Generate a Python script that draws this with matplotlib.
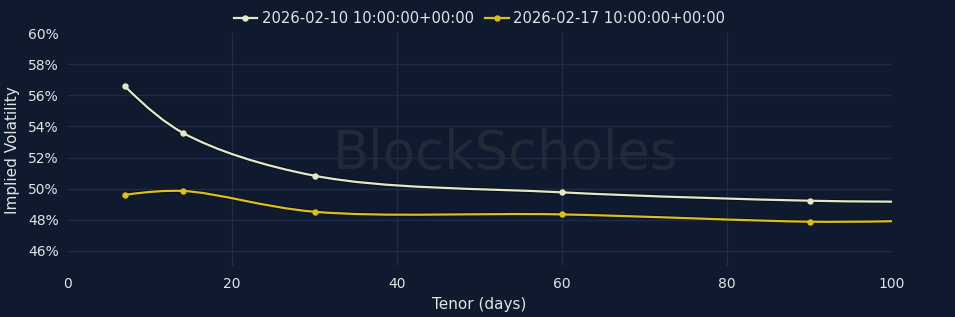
import numpy as np
import matplotlib
matplotlib.use("Agg")
import matplotlib.pyplot as plt
from matplotlib.path import Path
from matplotlib.patches import PathPatch
from matplotlib.lines import Line2D

# tenor in days, implied vol in %
tenors = [7, 14, 30, 60, 90, 100]
marker_tenors = [7, 14, 30, 60, 90]
iv_0210 = [56.6, 53.6, 50.83, 49.76, 49.22, 49.16]
iv_0217 = [49.6, 49.85, 48.51, 48.34, 47.87, 47.9]
labels = ["2026-02-10 10:00:00+00:00", "2026-02-17 10:00:00+00:00"]
colors = ["#e4e8c8", "#dcbe1c"]

y_ticks = [46, 48, 50, 52, 54, 56, 58, 60]
x_ticks = [0, 20, 40, 60, 80, 100]

BG = "#0f1a2e"
GRID = "#1f2b47"
TEXT = "#e2e4e8"


def tangent(prev, this, nxt, smooth=1.0):
    # same construction plotly uses for line_shape="spline"
    d1 = prev - this
    d2 = nxt - this
    d1a = np.hypot(*d1) ** 0.5
    d2a = np.hypot(*d2) ** 0.5
    num = (d2a * d2a * d1 - d1a * d1a * d2) * smooth
    den1 = 3 * d2a * (d1a + d2a)
    den2 = 3 * d1a * (d1a + d2a)
    return this + num / den1, this - num / den2


def spline_path(ax, xs, ys):
    pts = ax.transData.transform(np.column_stack([xs, ys]))
    tans = [tangent(pts[i - 1], pts[i], pts[i + 1]) for i in range(1, len(pts) - 1)]
    verts = [pts[0], tans[0][0], pts[1]]
    codes = [Path.MOVETO, Path.CURVE3, Path.CURVE3]
    for i in range(2, len(pts) - 1):
        verts += [tans[i - 2][1], tans[i - 1][0], pts[i]]
        codes += [Path.CURVE4] * 3
    verts += [tans[-1][1], pts[-1]]
    codes += [Path.CURVE3] * 2
    verts = ax.transData.inverted().transform(np.array(verts))
    return Path(verts, codes)


fig = plt.figure(figsize=(9.55, 3.17), dpi=100)
fig.patch.set_facecolor(BG)
ax = fig.add_axes([0.0702, 0.16, 0.8639, 0.735])
ax.set_facecolor(BG)
ax.set_xlim(0, 100)
ax.set_ylim(45, 60)

ax.set_yticks(y_ticks)
ax.set_yticklabels([f"{v}%" for v in y_ticks])
ax.set_xticks(x_ticks)
ax.tick_params(colors=TEXT, labelsize=10, length=0, pad=8)
ax.tick_params(axis="y", pad=6)
for s in ax.spines.values():
    s.set_visible(False)

# grid lines (none on the plot edges)
for v in y_ticks[:-1]:
    ax.axhline(v, color=GRID, lw=1, zorder=0)
for v in x_ticks[1:-1]:
    ax.axvline(v, color=GRID, lw=1, zorder=0)

ax.set_xlabel("Tenor (days)", color=TEXT, fontsize=11, labelpad=4)
ax.set_ylabel("Implied Volatility", color=TEXT, fontsize=11, labelpad=6)

fig.text(0.529, 0.515, "BlockScholes", color="#222939", fontsize=38,
         ha="center", va="center", zorder=0)

handles = []
for ys, c, lab in zip([iv_0210, iv_0217], colors, labels):
    path = spline_path(ax, tenors, ys)
    ax.add_patch(PathPatch(path, facecolor="none", edgecolor="#05080f", lw=3.0,
                           alpha=0.6, zorder=2))
    ax.plot(marker_tenors, ys[:len(marker_tenors)], "o", color=c, ms=3.6,
            mec=c, zorder=4)
    ax.add_patch(PathPatch(path, facecolor="none", edgecolor=c, lw=1.6, zorder=3))
    handles.append(Line2D([], [], color=c, lw=1.6, marker="o", ms=3.6, label=lab))

leg = ax.legend(handles=handles, loc="lower center", bbox_to_anchor=(0.5, 1.0),
                ncol=2, frameon=False, fontsize=10.6, handlelength=1.6,
                handletextpad=0.3, columnspacing=0.8, borderaxespad=0.1)
for t in leg.get_texts():
    t.set_color(TEXT)

fig.savefig("out.png", dpi=100, facecolor=BG)
